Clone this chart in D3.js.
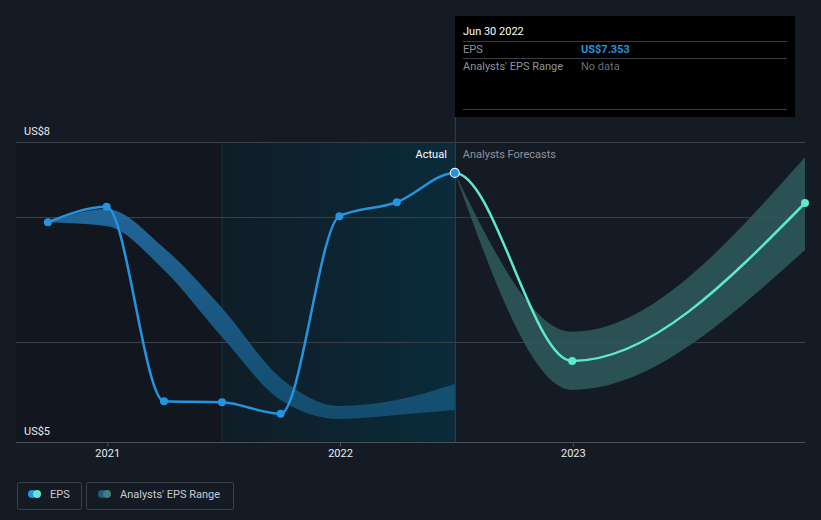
<!DOCTYPE html>
<html><head><meta charset="utf-8">
<script src="https://cdn.jsdelivr.net/npm/d3@7"></script>
<style>
html,body{margin:0;padding:0;background:#151b24;}
svg{display:block;font-family:Roboto, "Noto Sans", sans-serif;}
</style></head>
<body>
<svg id="c" width="821" height="520"></svg>
<script>
// ---- data ----
const pastDates = ["2020-09-30","2020-12-31","2021-03-31","2021-06-30","2021-09-30","2021-12-31","2022-03-31","2022-06-30"];
const pastEps   = [6.958, 7.082, 5.526, 5.518, 5.426, 7.006, 7.118, 7.353];
const pastRangeHigh = [6.958, 7.064, 6.752, 6.272, 5.712, 5.488, 5.536, 5.664];
const pastRangeLow  = [6.958, 6.928, 6.576, 6.040, 5.536, 5.384, 5.416, 5.456];
const fcDates = ["2022-06-30","2022-12-31","2023-12-31"];
const fcEps   = [7.353, 5.848, 7.112];
const fcHigh  = [7.353, 6.082, 7.478];
const fcLow   = [7.353, 5.616, 6.736];
const yearTicks = ["2021","2022","2023"];
const yLabels = ["US$8","US$5"];
const gridValues = [7, 6];

const parse = d3.timeParse("%Y-%m-%d");
const svg = d3.select("#c");

const x = d3.scaleTime().domain([new Date(2020,7,11), new Date(2023,11,31)]).range([16,805]);
const y = d3.scaleLinear().domain([5.2, 7.6]).range([442, 142]);

const defs = svg.append("defs");
const g1 = defs.append("linearGradient").attr("id","shade").attr("x1","0").attr("x2","1").attr("y1","0").attr("y2","0");
g1.append("stop").attr("offset","0").attr("stop-color","#0f1d27");
g1.append("stop").attr("offset","1").attr("stop-color","#0a2b3a");
const g2 = defs.append("linearGradient").attr("id","pband").attr("gradientUnits","userSpaceOnUse")
  .attr("x1",0).attr("x2",0).attr("y1",200).attr("y2",420);
g2.append("stop").attr("offset","0").attr("stop-color","#236aa0");
g2.append("stop").attr("offset","1").attr("stop-color","#134e70");

const past = pastDates.map((d,i)=>({d:parse(d), v:pastEps[i], hi:pastRangeHigh[i], lo:pastRangeLow[i]}));
const fc = fcDates.map((d,i)=>({d:parse(d), v:fcEps[i], hi:fcHigh[i], lo:fcLow[i]}));
const all = past.concat(fc.slice(1));
const nowX = x(parse("2022-06-30"));
const shadeStart = x(parse("2021-06-30"));

defs.append("clipPath").attr("id","clipL").append("rect").attr("x",0).attr("y",0).attr("width",nowX).attr("height",520);
defs.append("clipPath").attr("id","clipR").append("rect").attr("x",nowX).attr("y",0).attr("width",821-nowX).attr("height",520);

// background regions
svg.append("rect").attr("x",x.range()[0]).attr("y",y(7.6)).attr("width",shadeStart - x.range()[0]).attr("height",y(5.2)-y(7.6)).attr("fill","#12171f");
svg.append("rect").attr("x",shadeStart).attr("y",y(7.6)).attr("width",nowX-shadeStart).attr("height",y(5.2)-y(7.6)).attr("fill","url(#shade)");
svg.append("line").attr("x1",shadeStart).attr("x2",shadeStart).attr("y1",y(7.6)).attr("y2",y(5.2)).attr("stroke","#16323f").attr("stroke-width",1);

// gridlines
const gridAll = [7.6].concat(gridValues);
svg.selectAll("line.grid").data(gridAll).enter().append("line").attr("class","grid")
  .attr("x1",x.range()[0]).attr("x2",x.range()[1]).attr("y1",d=>Math.round(y(d))+0.5).attr("y2",d=>Math.round(y(d))+0.5)
  .attr("stroke","#3a3f48").attr("stroke-width",1);

// x axis
const xAxis = d3.axisBottom(x).tickValues(yearTicks.map(t=>new Date(+t,0,1))).tickFormat(d3.timeFormat("%Y")).tickSize(4).tickPadding(3);
const ax = svg.append("g").attr("transform","translate(0,442.5)").call(xAxis);
ax.select(".domain").attr("stroke","#4a4f58").attr("d","M"+x.range()[0]+",0H"+x.range()[1]);
ax.selectAll(".tick line").attr("stroke","#4a4f58");
ax.selectAll(".tick text").attr("fill","#e8eaee").attr("font-size","11px").attr("font-family","Roboto, sans-serif");

// y labels
svg.append("text").attr("x",24).attr("y",y(7.6)-7).attr("fill","#e8eaee").attr("font-size","11px").text(yLabels[0]);
svg.append("text").attr("x",24).attr("y",y(5.2)-7).attr("fill","#e8eaee").attr("font-size","11px").text(yLabels[1]);

// bands
const area = d3.area().x(d=>x(d.d)).y0(d=>y(d.lo)).y1(d=>y(d.hi)).curve(d3.curveMonotoneX);
svg.append("path").datum(past).attr("d",area).attr("fill","url(#pband)").attr("opacity",0.95);
svg.append("path").datum(fc).attr("d",area).attr("fill","#2e5b5c").attr("opacity",0.85);

// now line
svg.append("line").attr("x1",nowX+0.5).attr("x2",nowX+0.5).attr("y1",117).attr("y2",y(5.2)).attr("stroke","#24495a").attr("stroke-width",1);

// lines (one continuous curve, coloured by side)
const line = d3.line().x(d=>x(d.d)).y(d=>y(d.v)).curve(d3.curveMonotoneX);
svg.append("path").datum(all).attr("d",line).attr("fill","none").attr("stroke","#2394df").attr("stroke-width",2.5).attr("clip-path","url(#clipL)");
svg.append("path").datum(all).attr("d",line).attr("fill","none").attr("stroke","#5ee8d0").attr("stroke-width",2.5).attr("clip-path","url(#clipR)");

svg.selectAll("circle.p").data(past.slice(0,-1)).enter().append("circle").attr("class","p")
  .attr("cx",d=>x(d.d)).attr("cy",d=>y(d.v)).attr("r",4).attr("fill","#2394df");
svg.selectAll("circle.f").data(fc.slice(1)).enter().append("circle").attr("class","f")
  .attr("cx",d=>x(d.d)).attr("cy",d=>y(d.v)).attr("r",4).attr("fill","#5ee8d0");
svg.append("circle").attr("cx",nowX).attr("cy",y(pastEps[pastEps.length-1])).attr("r",4.5).attr("fill","#2394df").attr("stroke","#e8f4ff").attr("stroke-width",1.2);

// labels
svg.append("text").attr("x",nowX-8).attr("y",158).attr("text-anchor","end").attr("fill","#ffffff").attr("font-size","11px").text("Actual");
svg.append("text").attr("x",nowX+8).attr("y",158).attr("fill","#8d939c").attr("font-size","11px").text("Analysts Forecasts");

// tooltip
const tip = svg.append("g");
tip.append("rect").attr("x",455).attr("y",16).attr("width",340).attr("height",101).attr("fill","#000000");
tip.append("text").attr("x",463).attr("y",35).attr("fill","#ffffff").attr("font-size","11px").text("Jun 30 2022");
[41.5,58.5,109.5].forEach(v=>tip.append("line").attr("x1",463).attr("x2",787).attr("y1",v).attr("y2",v).attr("stroke","#3a3d42").attr("stroke-width",1));
tip.append("text").attr("x",463).attr("y",53).attr("fill","#8d939c").attr("font-size","11px").text("EPS");
tip.append("text").attr("x",581).attr("y",53).attr("fill","#2394df").attr("font-size","11px").attr("font-weight","bold").text("US$7.353");
tip.append("text").attr("x",463).attr("y",70).attr("fill","#8d939c").attr("font-size","11px").text("Analysts' EPS Range");
tip.append("text").attr("x",581).attr("y",70).attr("fill","#6a6f77").attr("font-size","11px").text("No data");

// legend
const leg = svg.append("g");
leg.append("rect").attr("x",17.5).attr("y",482.5).attr("width",64).attr("height",27).attr("rx",2).attr("fill","none").attr("stroke","#3a3f48");
leg.append("rect").attr("x",86.5).attr("y",482.5).attr("width",147).attr("height",27).attr("rx",2).attr("fill","none").attr("stroke","#3a3f48");
leg.append("circle").attr("cx",32).attr("cy",494).attr("r",4).attr("fill","#2394df");
leg.append("circle").attr("cx",37).attr("cy",494).attr("r",4).attr("fill","#5ee8d0");
leg.append("text").attr("x",50).attr("y",498).attr("fill","#c8ccd2").attr("font-size","11px").text("EPS");
leg.append("circle").attr("cx",102).attr("cy",494).attr("r",4).attr("fill","#1f5a85");
leg.append("circle").attr("cx",107).attr("cy",494).attr("r",4).attr("fill","#3f7f7c");
leg.append("text").attr("x",120).attr("y",498).attr("fill","#c8ccd2").attr("font-size","11px").text("Analysts' EPS Range");
</script>
</body></html>
